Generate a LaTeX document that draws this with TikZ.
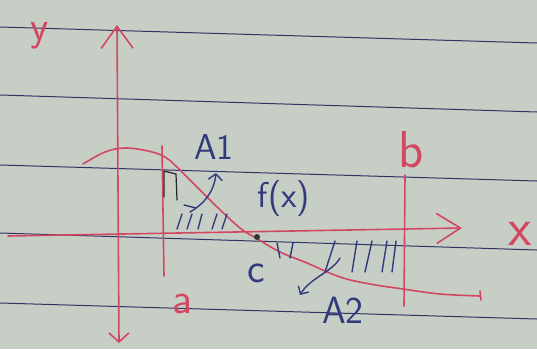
\documentclass[tikz,border=0pt]{standalone}
\usepackage{tikz}
\usetikzlibrary{arrows.meta}
\definecolor{paper}{RGB}{199,206,198}
\definecolor{rulecol}{RGB}{48,52,98}
\definecolor{redink}{RGB}{210,72,98}
\definecolor{blueink}{RGB}{50,58,125}
\tikzset{
  ruled/.style={rulecol,line width=1pt},
  redpen/.style={redink,line width=1.6pt,line cap=round,line join=round},
  bluepen/.style={blueink,line width=1.4pt,line cap=round,line join=round},
  redlbl/.style={redink,inner sep=0pt,font=\sffamily},
  bluelbl/.style={blueink,inner sep=0pt,font=\sffamily},
}
\newcommand{\fsz}[1]{\fontsize{#1}{#1}\selectfont}

\begin{document}
\begin{tikzpicture}[x=1pt,y=-1pt]
  \fill[paper] (0,0) rectangle (537,349);
  \useasboundingbox (0,0) rectangle (537,349);
  % ruled lines of the page
  \foreach \l/\r in {27/43, 95/112, 165/181, 233/250, 303/319}
    \draw[ruled] (0,\l) -- (537,\r);
  % axes
  \coordinate (ytop) at (117,25);
  \coordinate (ybot) at (119,343);
  \coordinate (xleft) at (8,236);
  \coordinate (xright) at (462,228);
  \draw[redpen,{Straight Barb[length=9pt,width=20pt]}-{Straight Barb[length=22pt,width=32pt]}] (ybot) -- (ytop);
  \draw[redpen,-{Straight Barb[length=24pt,width=30pt]}] (xleft) -- (xright);
  \node[redlbl] (ylab) at (40,36) {\fsz{42}y};
  \node[redlbl] (xlab) at (520,234) {\fsz{54}x};
  % limits a and b
  \coordinate (atop) at (162,146);
  \coordinate (abot) at (164,276);
  \coordinate (btop) at (405,175);
  \coordinate (bbot) at (404,306);
  \draw[redpen] (atop) -- (abot);
  \draw[redpen] (btop) -- (bbot);
  \node[redlbl] (alab) at (182,304) {\fsz{44}a};
  \node[redlbl] (blab) at (411,150) {\fsz{52}b};
  % the curve f(x)
  \draw[redpen] plot[smooth,tension=0.6] coordinates {(83,164) (105,152) (125,148) (148,151) (165,157)
    (180,170) (213,203) (240,228) (256,238) (280,252) (307,263) (340,277)
    (370,284) (403,289) (440,294) (480,296)};
  \draw[redpen] (480,291) -- (481,300);
  % root c
  \node[circle,fill=black!80,inner sep=0pt,minimum size=6pt] (cdot) at (257,237) {};
  \node[bluelbl] (clab) at (256,273) {\fsz{42}c};
  \node[bluelbl] (flab) at (284,199) {\fsz{36}f(x)};
  % hatching of A1
  \draw[black!85,line width=1.2pt,line cap=round] (164,197) -- (164,171) -- (176,174) -- (177,200);
  \foreach \p/\q in {177/182, 187/192, 198/202, 212/217, 222/227}
    \draw[bluepen] (\p,229) -- (\q,214);
  \draw[bluepen] (184,205) -- (196,208);
  % hatching of A2
  \foreach \p/\q in {277/280, 293/290}
    \draw[bluepen] (\p,243) -- (\q,258);
  \foreach \p/\q in {335/325, 357/352, 372/365, 387/382, 396/392}
    \draw[bluepen] (\p,241) -- (\q,272);
  % area labels with their arrows
  \node[bluelbl] (a1lab) at (214,147) {\fsz{36}A1};
  \node[bluelbl] (a2lab) at (343,310) {\fsz{38}A2};
  \coordinate (a1from) at (190,212);
  \coordinate (a1to) at (216,173);
  \draw[bluepen,-{Straight Barb[length=6pt,width=14pt]}] (a1from) .. controls (204,204) and (214,192) .. (a1to);
  \coordinate (a2from) at (340,258);
  \coordinate (a2to) at (300,295);
  \draw[bluepen,-{Straight Barb[length=6pt,width=12pt]}] (a2from) .. controls (332,272) and (310,278) .. (a2to);
\end{tikzpicture}
\end{document}
